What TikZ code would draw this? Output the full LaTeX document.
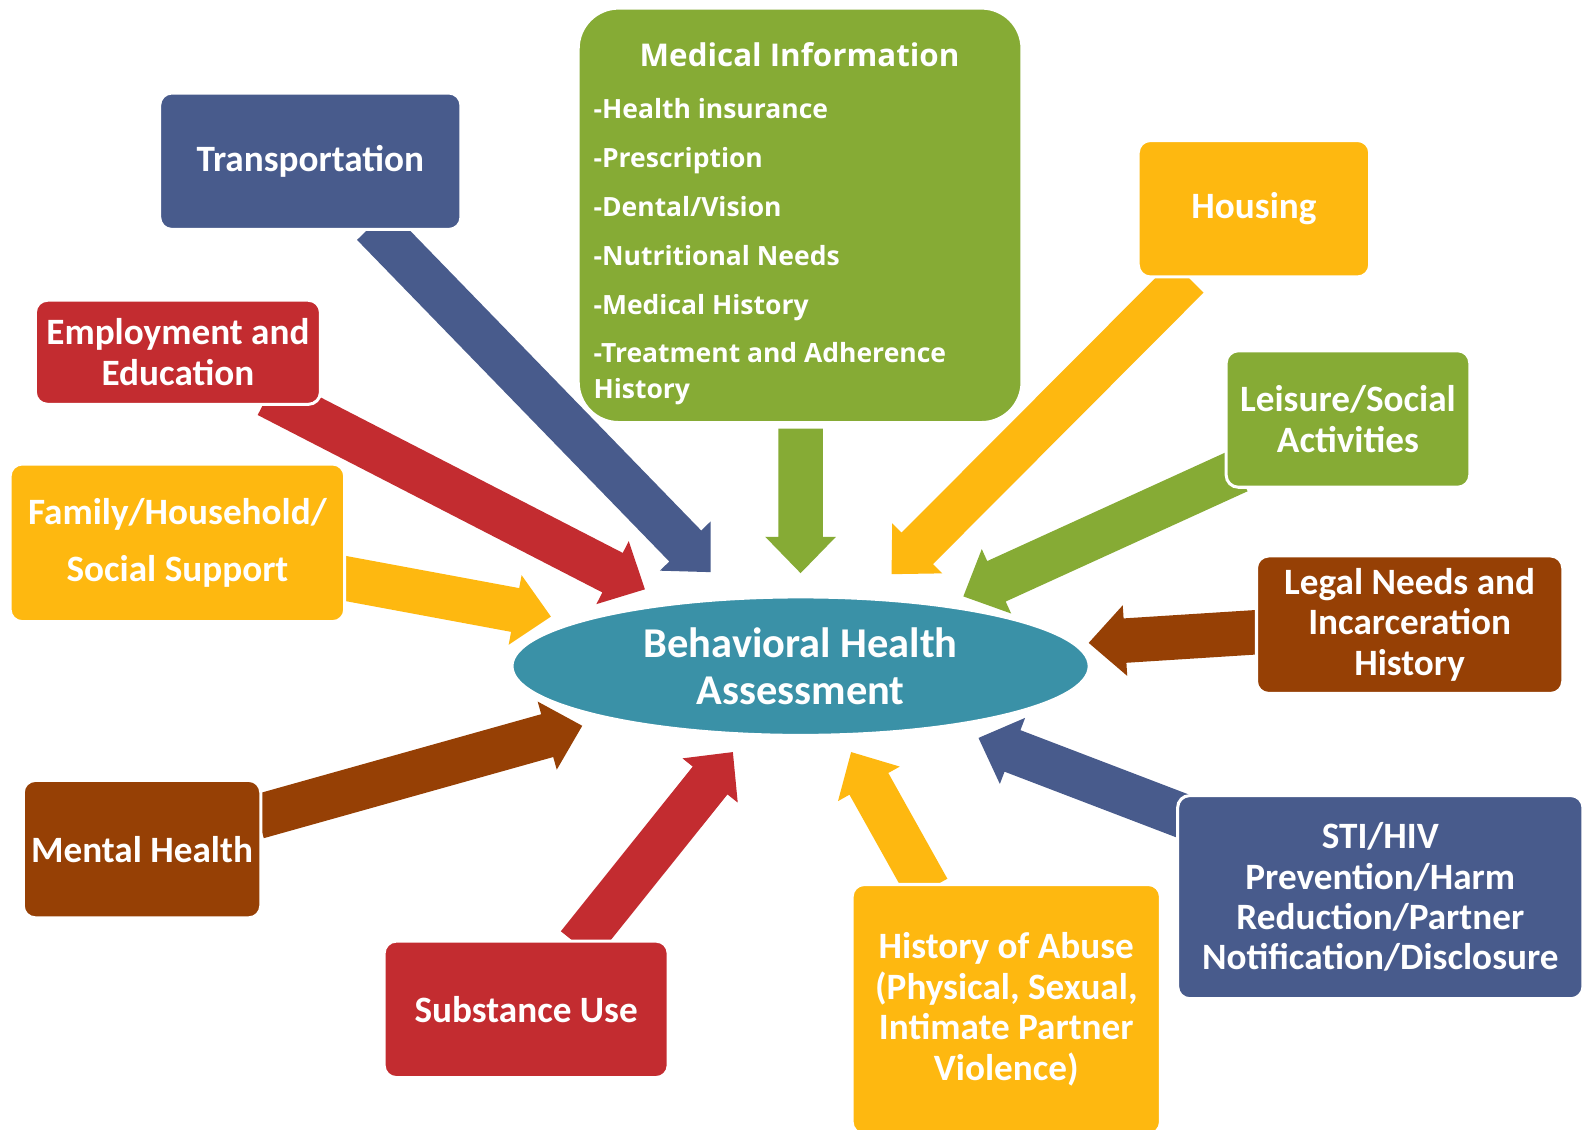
\documentclass[tikz,border=0pt]{standalone}
\usepackage{fontspec}
\setmainfont{Carlito}
\newfontfamily\medfont{Open Sans}
\usetikzlibrary{calc,shapes.geometric}
\definecolor{cblue}{RGB}{72,91,140}
\definecolor{cred}{RGB}{195,44,48}
\definecolor{camber}{RGB}{254,184,16}
\definecolor{cgreen}{RGB}{134,171,53}
\definecolor{cbrown}{RGB}{150,64,5}
\definecolor{cteal}{RGB}{58,145,167}
\pgfdeclareradialshading{vign}{\pgfpoint{0bp}{0bp}}{color(0bp)=(white); color(36bp)=(white); color(50bp)=(black!9); color(72bp)=(black!12)}
\newcommand\blockarrow[3]{%
  \coordinate (h) at ($(#3)!36pt!(#2)$);
  \fill[#1] ($(#2)!22pt!90:(#3)$) -- ($(h)!22pt!90:(#3)$) -- ($(h)!35pt!90:(#3)$) -- (#3)
    -- ($(h)!35pt!-90:(#3)$) -- ($(h)!22pt!-90:(#3)$) -- ($(#2)!22pt!-90:(#3)$) -- cycle;}
\tikzset{
  box/.style={rounded corners=12pt, draw=white, line width=3pt, text=white, align=center,
    inner sep=0pt, font=\bfseries\fontsize{36.8}{40}\selectfont},
  medtext/.style={text=white, inner sep=0pt, font=\medfont\bfseries\fontsize{26.2}{35}\selectfont, align=left}
}
\begin{document}
\begin{tikzpicture}[x=1pt,y=-1pt]
\useasboundingbox (0,0) rectangle (1568,1117);
\shade[shading=vign] (0,0) rectangle (1568,1117);
% arrow end points
\coordinate (tTr) at (369,222);   \coordinate (pTr) at (703,566);
\coordinate (tEm) at (265,391);   \coordinate (pEm) at (638,583);
\coordinate (tFa) at (335,571);   \coordinate (pFa) at (545,610);
\coordinate (tMe) at (792,424);   \coordinate (pMe) at (792,567);
\coordinate (tHo) at (1175,274);  \coordinate (pHo) at (882,568);
\coordinate (tLe) at (1225,466);  \coordinate (pLe) at (953,590);
\coordinate (tLg) at (1250,625);  \coordinate (pLg) at (1077,636);
\coordinate (tSt) at (1172,808);  \coordinate (pSt) at (968,730);
\coordinate (tAb) at (918,880);   \coordinate (pAb) at (842,744);
\coordinate (tSu) at (572,935);   \coordinate (pSu) at (725,744);
\coordinate (tMh) at (255,808);   \coordinate (pMh) at (576,718);
\blockarrow{cblue}{tTr}{pTr}
\blockarrow{cred}{tEm}{pEm}
\blockarrow{camber}{tFa}{pFa}
\blockarrow{cgreen}{tMe}{pMe}
\blockarrow{camber}{tHo}{pHo}
\blockarrow{cgreen}{tLe}{pLe}
\blockarrow{cbrown}{tLg}{pLg}
\blockarrow{cblue}{tSt}{pSt}
\blockarrow{camber}{tAb}{pAb}
\blockarrow{cred}{tSu}{pSu}
\blockarrow{cbrown}{tMh}{pMh}
% boxes
\node[box, fill=cblue, minimum width=298pt, minimum height=135pt] (trans) at (307,159.5) {Transportation};
\node[box, fill=cred, minimum width=282pt, minimum height=103pt] (emp) at (176,348.5) {Employment and\\Education};
\node[box, fill=camber, minimum width=331pt, minimum height=156pt, font=\bfseries\fontsize{36.8}{56}\selectfont] (fam) at (175.5,537) {Family/Household/\\Social Support};
\node[box, fill=cbrown, minimum width=235pt, minimum height=136pt] (ment) at (140.5,840) {Mental Health};
\node[box, fill=cred, minimum width=281pt, minimum height=135pt] (subs) at (520.5,998.5) {Substance Use};
\node[box, fill=camber, minimum width=305pt, minimum height=247pt] (abuse) at (995.5,998.5) {History of Abuse\\(Physical, Sexual,\\Intimate Partner\\Violence)};
\node[box, fill=cblue, minimum width=401pt, minimum height=201pt] (sti) at (1365.5,887.5) {STI/HIV\\Prevention/Harm\\Reduction/Partner\\Notification/Disclosure};
\node[box, fill=cbrown, minimum width=303pt, minimum height=136pt] (legal) at (1394.5,618) {Legal Needs and\\Incarceration\\History};
\node[box, fill=cgreen, minimum width=241pt, minimum height=135pt] (leis) at (1333.5,414.5) {Leisure/Social\\Activities};
\node[box, fill=camber, minimum width=229pt, minimum height=135pt] (hous) at (1240.5,206.5) {Housing};
\node[box, fill=cgreen, rounded corners=40pt, minimum width=439pt, minimum height=410pt] (med) at (791.5,213) {};
\node[medtext, anchor=base, font=\medfont\bfseries\fontsize{31}{36}\selectfont] (medt) at (791,66) {Medical Information};
\node[medtext, anchor=base west] (m1) at (587,117) {-Health insurance};
\node[medtext, anchor=base west] (m2) at (587,166) {-Prescription};
\node[medtext, anchor=base west] (m3) at (587,214) {-Dental/Vision};
\node[medtext, anchor=base west] (m4) at (587,263) {-Nutritional Needs};
\node[medtext, anchor=base west] (m5) at (587,311) {-Medical History};
\node[medtext, anchor=base west] (m6) at (587,359) {-Treatment and Adherence};
\node[medtext, anchor=base west] (m7) at (587,394) {History};
% centre
\node[ellipse, fill=cteal, draw=white, line width=2pt, minimum width=570pt, minimum height=136pt,
  inner sep=0pt, text=white, align=center, font=\bfseries\fontsize{42}{46}\selectfont] (bha) at (792,659) {Behavioral Health\\Assessment};
\end{tikzpicture}
\end{document}
